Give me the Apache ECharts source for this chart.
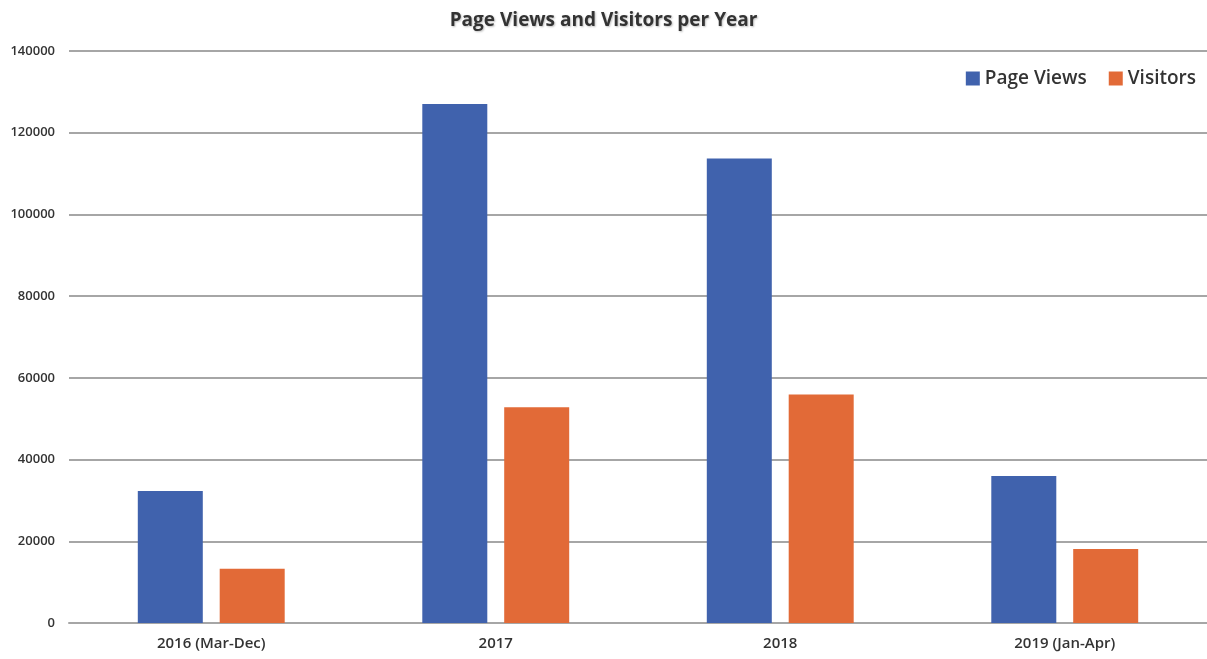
<!DOCTYPE html>
<html>
<head>
<meta charset="utf-8">
<script src="https://cdn.jsdelivr.net/npm/echarts@6/dist/echarts.min.js"></script>
<style>
  html, body { margin: 0; padding: 0; background: #fff; }
  #main { width: 1207px; height: 659px; }
</style>
</head>
<body>
<div id="main"></div>
<script>
const categories = ['2016 (Mar-Dec)', '2017', '2018', '2019 (Jan-Apr)'];
const pageViews = [32300, 127000, 113700, 36000];
const visitors = [13300, 52800, 55900, 18100];

const font = '"Open Sans", "Liberation Sans", sans-serif';

const option = {
    backgroundColor: '#ffffff',
    animation: false,
    title: {
        text: 'Page Views and Visitors per Year',
        left: 'center',
        top: 6,
        textStyle: {
            fontFamily: font,
            fontSize: 19,
            fontWeight: 'bold',
            color: '#333333',
            textShadowColor: 'rgba(0,0,0,0.25)',
            textShadowBlur: 2,
            textShadowOffsetX: 1,
            textShadowOffsetY: 1
        }
    },
    legend: {
        right: 6,
        top: 64,
        itemWidth: 14,
        itemHeight: 14,
        itemGap: 22,
        icon: 'rect',
        textStyle: { fontFamily: font, fontSize: 19, fontWeight: 600, color: '#333333' },
        data: ['Page Views', 'Visitors']
    },
    grid: { left: 69, right: 0, top: 51, bottom: 36, containLabel: false },
    xAxis: {
        type: 'category',
        data: categories,
        axisTick: { show: false },
        axisLine: { lineStyle: { color: '#a6a6a6', width: 2 } },
        axisLabel: { fontFamily: font, fontSize: 15, fontWeight: 600, color: '#333333', margin: 13 }
    },
    yAxis: {
        type: 'value',
        min: 0,
        max: 140000,
        interval: 20000,
        axisLabel: {
            fontFamily: font, fontSize: 13, fontWeight: 600, color: '#333333', margin: 14,
            formatter: v => String(v)
        },
        splitLine: { lineStyle: { color: '#a6a6a6', width: 2 } }
    },
    series: [
        {
            name: 'Page Views',
            type: 'bar',
            data: pageViews,
            barWidth: 65,
            barGap: '26%',
            itemStyle: { color: '#4062ad' }
        },
        {
            name: 'Visitors',
            type: 'bar',
            data: visitors,
            barWidth: 65,
            itemStyle: { color: '#e26a37' }
        }
    ]
};

const myChart = echarts.init(document.getElementById('main'));
myChart.setOption(option);
</script>
</body>
</html>
